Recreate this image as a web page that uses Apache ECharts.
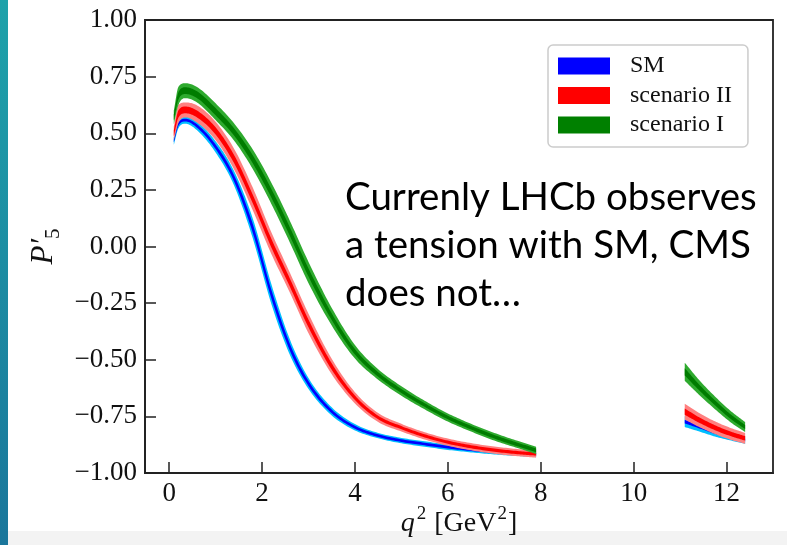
<!DOCTYPE html>
<html><head><meta charset="utf-8">
<script src="https://cdn.jsdelivr.net/npm/echarts@6/dist/echarts.min.js"></script>
<style>html,body{margin:0;padding:0;background:#fff}#c{width:787px;height:545px}</style>
</head><body><div id="c"></div>
<script>
// ---- data ----
const xA = [0.1,0.2,0.35,0.6,1.0,1.4,1.8,2.2,2.6,3.0,3.5,4.0,4.5,5.0,5.5,6.0,6.5,7.0,7.5,7.9];
const xB = [11.1,11.4,11.75,12.1,12.4];

const smA    = [0.465,0.54,0.558,0.532,0.44,0.30,0.08,-0.21,-0.445,-0.605,-0.728,-0.798,-0.835,-0.857,-0.872,-0.886,-0.897,-0.906,-0.913,-0.918];
const smOutA = [0.016,0.018,0.016,0.019,0.025,0.032,0.044,0.044,0.034,0.024,0.018,0.014,0.012,0.012,0.012,0.012,0.012,0.012,0.012,0.012];
const smInA  = [0.006,0.007,0.006,0.0075,0.01,0.014,0.019,0.019,0.015,0.011,0.008,0.0065,0.006,0.006,0.006,0.006,0.006,0.006,0.006,0.006];
const smB    = [-0.773,-0.795,-0.82,-0.84,-0.855];
const smOutB = [0.024,0.021,0.019,0.017,0.016];
const smInB  = [0.008,0.007,0.007,0.006,0.006];

const s2A    = [0.50,0.585,0.603,0.585,0.51,0.385,0.21,0.015,-0.16,-0.34,-0.53,-0.668,-0.755,-0.80,-0.836,-0.864,-0.884,-0.899,-0.91,-0.916];
const s2OutA = [0.03,0.04,0.033,0.038,0.041,0.046,0.05,0.048,0.044,0.043,0.034,0.025,0.02,0.017,0.016,0.016,0.016,0.016,0.016,0.016];
const s2InA  = [0.013,0.016,0.015,0.015,0.016,0.018,0.019,0.019,0.018,0.017,0.014,0.01,0.008,0.007,0.007,0.007,0.007,0.007,0.007,0.007];
const s2B    = [-0.729,-0.765,-0.80,-0.828,-0.847];
const s2OutB = [0.035,0.031,0.028,0.026,0.024];
const s2InB  = [0.014,0.012,0.011,0.010,0.010];

const s1A    = [0.57,0.665,0.688,0.67,0.595,0.505,0.385,0.235,0.065,-0.115,-0.31,-0.465,-0.565,-0.638,-0.70,-0.755,-0.80,-0.84,-0.874,-0.90];
const s1OutA = [0.03,0.04,0.033,0.034,0.037,0.038,0.043,0.047,0.048,0.047,0.039,0.03,0.023,0.021,0.019,0.018,0.017,0.017,0.016,0.016];
const s1InA  = [0.013,0.016,0.015,0.015,0.016,0.016,0.018,0.019,0.019,0.018,0.015,0.012,0.01,0.009,0.008,0.008,0.008,0.008,0.008,0.008];
const s1B    = [-0.553,-0.62,-0.69,-0.753,-0.797];
const s1OutB = [0.04,0.033,0.028,0.025,0.022];
const s1InB  = [0.016,0.013,0.011,0.01,0.009];

const legendNames = ['SM','scenario II','scenario I'];
const xTicks = [0,2,4,6,8,10,12];
const yTicks = [-1,-0.75,-0.5,-0.25,0,0.25,0.5,0.75,1];
const annotationLines = ['Currenly LHCb observes','a tension with SM, CMS','does not…'];

// ---- styles ----
const serif = 'Liberation Serif';
const colors = {
  sm: {out:'#00bfff', inn:'#0000ff', legend:'#0000ff'},
  s2: {out:'#ff8080', inn:'#ff0000', legend:'#ff0000'},
  s1: {out:'#2eaa2e', inn:'#007c00', legend:'#008000'}
};

// monotone cubic (Fritsch-Carlson) smoothing of an edge in pixel space (rendering only)
function smoothEdge(pts) {
  const n = pts.length;
  if (n < 3) return pts.slice();
  const xs = pts.map(p=>p[0]), ys = pts.map(p=>p[1]);
  const d = [], m = new Array(n);
  for (let i=0;i<n-1;i++) d.push((ys[i+1]-ys[i])/(xs[i+1]-xs[i]));
  m[0] = d[0]; m[n-1] = d[n-2];
  for (let i=1;i<n-1;i++) m[i] = (d[i-1]*d[i] <= 0) ? 0 : (d[i-1]+d[i])/2;
  for (let i=0;i<n-1;i++) {
    if (d[i] === 0) { m[i]=0; m[i+1]=0; continue; }
    const a = m[i]/d[i], b = m[i+1]/d[i], s = a*a+b*b;
    if (s > 9) { const t = 3/Math.sqrt(s); m[i]=t*a*d[i]; m[i+1]=t*b*d[i]; }
  }
  const out = [];
  for (let i=0;i<n-1;i++) {
    const h = xs[i+1]-xs[i], steps = 12;
    for (let k=0;k<steps;k++) {
      const t = k/steps, t2=t*t, t3=t2*t;
      const y = (2*t3-3*t2+1)*ys[i] + (t3-2*t2+t)*h*m[i] + (-2*t3+3*t2)*ys[i+1] + (t3-t2)*h*m[i+1];
      out.push([xs[i]+t*h, y]);
    }
  }
  out.push([xs[n-1], ys[n-1]]);
  return out;
}

const series = [];
function addBand(id, xs, mid, half, color, legendName) {
  series.push({
    type:'custom', name: legendName || id, silent:true, animation:false, clip:true,
    itemStyle:{color},
    encode:{x:0, y:[1,2]},
    data: xs.map((x,i)=>[x, mid[i]-half[i], mid[i]+half[i]]),
    renderItem: function(params, api) {
      if (params.dataIndexInside !== 0) return null;
      const n = params.dataInsideLength;
      const top = [], bot = [];
      for (let i=0;i<n;i++) {
        top.push(api.coord([api.value(0,i), api.value(2,i)]));
        bot.push(api.coord([api.value(0,i), api.value(1,i)]));
      }
      const pts = smoothEdge(top).concat(smoothEdge(bot).reverse());
      return {type:'polygon', shape:{points:pts}, style:{fill:color, stroke:null}};
    }
  });
}
addBand('smOA', xA, smA, smOutA, colors.sm.out);
addBand('smOB', xB, smB, smOutB, colors.sm.out);
addBand('smIA', xA, smA, smInA, colors.sm.inn, legendNames[0]);
addBand('smIB', xB, smB, smInB, colors.sm.inn);
addBand('s2OA', xA, s2A, s2OutA, colors.s2.out);
addBand('s2OB', xB, s2B, s2OutB, colors.s2.out);
addBand('s2IA', xA, s2A, s2InA, colors.s2.inn, legendNames[1]);
addBand('s2IB', xB, s2B, s2InB, colors.s2.inn);
addBand('s1OA', xA, s1A, s1OutA, colors.s1.out);
addBand('s1OB', xB, s1B, s1OutB, colors.s1.out);
addBand('s1IA', xA, s1A, s1InA, colors.s1.inn, legendNames[2]);
addBand('s1IB', xB, s1B, s1InB, colors.s1.inn);

const fmtY = v => (v < 0 ? '\u2212' : '') + Math.abs(v).toFixed(2);

const chart = echarts.init(document.getElementById('c'), null, {renderer:'canvas'});
chart.setOption({
  animation:false,
  backgroundColor:'#ffffff',
  grid:{left:145, right:14, top:20, bottom:72, show:true, borderColor:'#222', borderWidth:1.8,
        backgroundColor:'transparent', containLabel:false, outerBoundsMode:'none'},
  xAxis:{type:'value', min:-0.52, max:13.0,
    axisLine:{show:true, onZero:false, lineStyle:{color:'#222', width:1.8}},
    axisTick:{show:true, inside:true, length:11, customValues:xTicks, lineStyle:{color:'#222', width:1.5}},
    axisLabel:{customValues:xTicks, fontFamily:serif, fontSize:27, color:'#111', margin:7},
    splitLine:{show:false},
    name:'{q|q}{sup|2}{t| [GeV}{sup|2}{t|]}', nameLocation:'middle', nameGap:30, nameMoveOverlap:false,
    nameTextStyle:{rich:{
      q:{fontFamily:serif, fontStyle:'italic', fontSize:28, lineHeight:28, padding:[7,1,0,0], verticalAlign:'top', color:'#111'},
      t:{fontFamily:serif, fontSize:28, lineHeight:28, padding:[7,0,0,0], verticalAlign:'top', color:'#111'},
      sup:{fontFamily:serif, fontSize:19, lineHeight:19, padding:[2,1,0,1], verticalAlign:'top', color:'#111'}
    }}
  },
  yAxis:{type:'value', min:-1, max:1,
    axisLine:{show:true, onZero:false, lineStyle:{color:'#222', width:1.8}},
    axisTick:{show:true, inside:true, length:11, customValues:yTicks, lineStyle:{color:'#222', width:1.5}},
    axisLabel:{customValues:yTicks, fontFamily:serif, fontSize:27, color:'#111', margin:8, formatter:fmtY},
    splitLine:{show:false},
    name:'{p|P\u2032}{s|5}', nameLocation:'middle', nameGap:86, nameRotate:90, nameMoveOverlap:false,
    nameTextStyle:{rich:{
      p:{fontFamily:serif, fontStyle:'italic', fontSize:31, lineHeight:31, verticalAlign:'top', color:'#111'},
      s:{fontFamily:serif, fontSize:21, lineHeight:21, padding:[15,0,0,0], verticalAlign:'top', color:'#111'}
    }}
  },
  legend:{orient:'vertical', left:548, top:45, padding:[9,16,10,10], itemGap:5.5,
    itemWidth:52, itemHeight:17, icon:'rect', selectedMode:false,
    borderColor:'#cccccc', borderWidth:1.5, borderRadius:5, backgroundColor:'#ffffff',
    itemStyle:{borderWidth:0},
    textStyle:{fontFamily:serif, fontSize:24, color:'#111', lineHeight:23, padding:[0,0,0,15]},
    data:[
      {name:legendNames[0], itemStyle:{color:colors.sm.legend}},
      {name:legendNames[1], itemStyle:{color:colors.s2.legend}},
      {name:legendNames[2], itemStyle:{color:colors.s1.legend}}
    ]},
  graphic:[
    {type:'rect', z:-1, shape:{x:8, y:531, width:779, height:14}, style:{fill:'#f3f3f3'}},
    {type:'rect', shape:{x:0, y:0, width:8, height:545}, style:{fill:new echarts.graphic.LinearGradient(0,0,0,1,[{offset:0,color:'#1ea2aa'},{offset:1,color:'#1a769b'}])}},
    {type:'text', x:345, y:198, style:{text:annotationLines[0], fontFamily:'Lato', fontSize:38.5, fill:'#000', verticalAlign:'middle'}},
    {type:'text', x:345, y:246, style:{text:annotationLines[1], fontFamily:'Lato', fontSize:38.5, fill:'#000', verticalAlign:'middle'}},
    {type:'text', x:345, y:294, style:{text:annotationLines[2], fontFamily:'Lato', fontSize:38.5, fill:'#000', verticalAlign:'middle'}}
  ],
  series
});
</script></body></html>
